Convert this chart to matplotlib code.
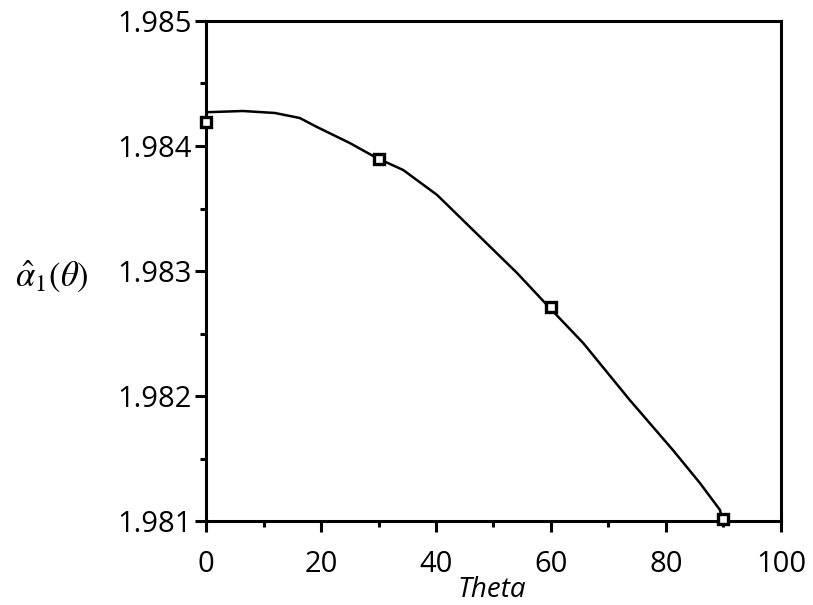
import matplotlib.pyplot as plt
from matplotlib.ticker import MultipleLocator

# smooth fitted curve
theta_curve = [0, 6.4, 12, 16.3, 19.3, 25, 29.7, 34.3, 40.2, 45.9, 54.1, 59.8,
               65.6, 73.7, 81.2, 85.9, 89.4, 89.7]
alpha_curve = [1.98427, 1.98428, 1.984264, 1.984224, 1.984152, 1.984024, 1.983904,
               1.983808, 1.983608, 1.983352, 1.982984, 1.982704, 1.982424,
               1.981968, 1.981568, 1.981304, 1.981088, 1.981024]

# computed points
theta_pts = [0, 30, 60, 90]
alpha_pts = [1.98419, 1.98390, 1.98271, 1.98102]

plt.rcParams['font.family'] = ['Open Sans', 'DejaVu Sans']
plt.rcParams['mathtext.fontset'] = 'stix'

fig = plt.figure(figsize=(8.13, 6.05), dpi=100)
ax = fig.add_axes([0.2534, 0.1388, 0.7072, 0.8265])

ax.plot(theta_curve, alpha_curve, color='black', lw=1.8, zorder=2)
ax.plot(theta_pts, alpha_pts, ls='none', marker='s', ms=7, mfc='white',
        mec='black', mew=2.4, clip_on=False, zorder=3)

ax.set_xlim(0, 100)
ax.set_ylim(1.981, 1.985)
ax.xaxis.set_major_locator(MultipleLocator(20))
ax.xaxis.set_minor_locator(MultipleLocator(10))
ax.yaxis.set_major_locator(MultipleLocator(0.001))
ax.yaxis.set_minor_locator(MultipleLocator(0.0005))
ax.yaxis.set_major_formatter(plt.FormatStrFormatter('%.3f'))

for s in ax.spines.values():
    s.set_linewidth(2.2)
ax.tick_params(which='major', direction='out', length=8, width=2.2, labelsize=21)
ax.tick_params(which='minor', direction='out', length=4, width=2.2)
ax.tick_params(axis='x', which='major', pad=13)
ax.tick_params(axis='y', which='major', pad=2)

ax.set_xlabel('Theta', fontsize=20, style='italic')
ax.xaxis.set_label_coords(0.497, -0.11)
ax.set_ylabel(r'$\hat{\alpha}_1(\theta)$', fontsize=25, rotation=0, va='center', ha='center')
ax.yaxis.set_label_coords(-0.268, 0.49)

fig.savefig('out.png', dpi=100)
